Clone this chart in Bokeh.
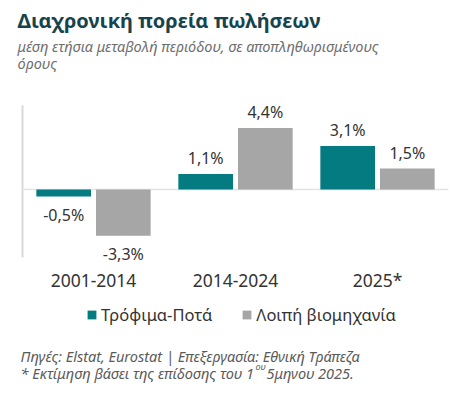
from bokeh.plotting import figure
from bokeh.models import ColumnDataSource, Range1d, Label, Legend, LegendItem
from bokeh.core.properties import value
from bokeh.embed import file_html
from bokeh.resources import INLINE

periods = ["2001-2014", "2014-2024", "2025*"]
food = [-0.5, 1.1, 3.1]
other = [-3.3, 4.4, 1.5]
series_names = ["Τρόφιμα-Ποτά", "Λοιπή βιομηχανία"]

TEAL = "#037B80"
GRAY = "#A6A6A6"
TXT = "#333333"
NOTE = "#5A5A5A"
FONT = "Noto Sans"

# axis extent of the inner chart (value units)
Y_LO, Y_HI = -4.857, 6.0

def fmt(v):
    return ("%.1f%%" % v).replace(".", ",")

def offs(vals):
    return [-16 if v >= 0 else 18 for v in vals]

idx = list(range(len(periods)))
src_food = ColumnDataSource(dict(x=[i - 0.21 for i in idx], y=food,
                                 lab=[fmt(v) for v in food], off=offs(food)))
src_other = ColumnDataSource(dict(x=[i + 0.21 for i in idx], y=other,
                                  lab=[fmt(v) for v in other], off=offs(other)))
src_cat = ColumnDataSource(dict(x=idx, y=[Y_LO] * len(idx), lab=periods))

W, H = 452, 390
PX_GROUP = 142.0
PX_UNIT = 14.0
x0 = -93 / PX_GROUP
y_top = 189 / PX_UNIT
p = figure(width=W, height=H,
           x_range=Range1d(x0, x0 + W / PX_GROUP),
           y_range=Range1d(y_top - H / PX_UNIT, y_top),
           output_backend="svg", toolbar_location=None,
           min_border_left=0, min_border_right=0, min_border_top=0, min_border_bottom=0)
p.outline_line_color = None
p.grid.visible = False
p.xaxis.visible = False
p.yaxis.visible = False
p.background_fill_color = "white"

# axis lines
p.segment(x0=[-0.5], y0=[Y_LO], x1=[-0.5], y1=[Y_HI], line_color="#D9D9D9", line_width=2)
p.segment(x0=[-0.5], y0=[0], x1=[len(idx) - 0.5], y1=[0], line_color="#E3E3E3", line_width=1.5)

r1 = p.vbar(x="x", top="y", bottom=0, width=0.385, source=src_food,
            fill_color=TEAL, line_color=None)
r2 = p.vbar(x="x", top="y", bottom=0, width=0.385, source=src_other,
            fill_color=GRAY, line_color=None)

for src in (src_food, src_other):
    p.text(x="x", y="y", text="lab", y_offset="off", source=src,
           text_align="center", text_baseline="middle", text_font_size="16px",
           text_color=TXT, text_font=value(FONT))

p.text(x="x", y="y", text="lab", y_offset=23, source=src_cat,
       text_align="center", text_baseline="middle", text_font_size="17.5px",
       text_color=TXT, text_font=value(FONT))

def add_label(txt, x, y_img, size, color, style="normal"):
    p.add_layout(Label(x=x, y=H - y_img, x_units="screen", y_units="screen", text=txt,
                       text_font=FONT, text_font_size=size, text_color=color,
                       text_font_style=style, text_baseline="middle"))

add_label("Διαχρονική πορεία πωλήσεων", 17, 20, "20px", "#17444C", "bold")
add_label("μέση ετήσια μεταβολή περιόδου, σε αποπληθωρισμένους", 17, 45, "14.5px", "#6E6E6E", "italic")
add_label("όρους", 17, 62, "14.5px", "#6E6E6E", "italic")
add_label("Πηγές: Elstat, Eurostat | Επεξεργασία: Εθνική Τράπεζα", 20, 355, "14.5px", NOTE, "italic")
add_label("* Εκτίμηση βάσει της επίδοσης του 1", 20, 372, "14.5px", NOTE, "italic")
add_label("ου", 255, 366, "9px", NOTE, "italic")
add_label(" 5μηνου 2025.", 266, 372, "14.5px", NOTE, "italic")

legend = Legend(items=[LegendItem(label=series_names[0], renderers=[r1]),
                       LegendItem(label=series_names[1], renderers=[r2])],
                orientation="horizontal", location=(86, H - 326), padding=0, margin=0,
                spacing=29, glyph_width=11, glyph_height=11, label_standoff=4,
                label_text_font=FONT, label_text_font_size="16.5px", label_text_color=TXT,
                border_line_color=None, background_fill_alpha=0)
p.add_layout(legend, "center")

open("out.html", "w").write(file_html(p, INLINE))
